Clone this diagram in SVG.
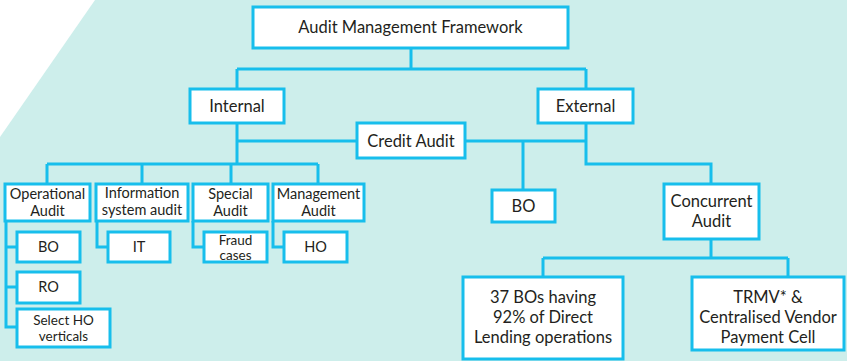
<svg xmlns="http://www.w3.org/2000/svg" width="847" height="361" viewBox="0 0 847 361">
<style>
.box{fill:#fff;stroke:#17BEEC;stroke-width:3}
.ln{fill:none;stroke:#17BEEC;stroke-width:3}
text{font-family:Lato,"Liberation Sans",sans-serif;fill:#231F20;text-anchor:middle;font-size:14.5px}
.big{font-size:16.5px}
.sm{font-size:13.5px}
</style>
<rect width="847" height="361" fill="#CDEEEB"/>
<polygon points="0,0 95,0 0,137" fill="#fff"/>
<g id="connectors">
<path class="ln" d="M411,48 V69 M237,69 H586 M237,69 V89 M586,69 V89"/>
<path class="ln" d="M237,123 V164 M237,141 H357 M465,141 H586 M586,123 V164 H711 V184 M523,141 V190"/>
<path class="ln" d="M47,164 H318 M47,164 V184 M142,164 V184 M231,164 V184 M318,164 V184"/>
<path class="ln" d="M6,221 V327 H17 M6,247 H17 M6,287 H17"/>
<path class="ln" d="M97,221 V247 H108 M193,221 V247 H204 M273,221 V247 H284"/>
<path class="ln" d="M711,239 V258 M543,258 H788 M543,258 V277 M788,258 V277"/>
</g>
<g id="amf"><rect class="box" x="253" y="7" width="315" height="41"/><text class="big" x="410.5" y="33">Audit Management Framework</text></g>
<g id="internal"><rect class="box" x="190" y="89" width="94" height="34"/><text class="big" x="237" y="112">Internal</text></g>
<g id="external"><rect class="box" x="538" y="89" width="95" height="34"/><text class="big" x="585.5" y="112">External</text></g>
<g id="credit"><rect class="box" x="357" y="123" width="108" height="35"/><text class="big" x="411" y="147">Credit Audit</text></g>
<g id="operational"><rect class="box" x="5" y="184" width="85" height="37"/><text x="47.5" y="199">Operational</text><text x="47.5" y="216">Audit</text></g>
<g id="infosys"><rect class="box" x="96" y="184" width="92" height="37"/><text x="142" y="198">Information</text><text x="142" y="215">system audit</text></g>
<g id="special"><rect class="box" x="193" y="184" width="75" height="37"/><text x="230.5" y="199">Special</text><text x="230.5" y="216">Audit</text></g>
<g id="management"><rect class="box" x="273" y="184" width="91" height="37"/><text x="318.5" y="199">Management</text><text x="318.5" y="216">Audit</text></g>
<g id="bo1"><rect class="box" x="17" y="232" width="63" height="30"/><text x="48.5" y="252">BO</text></g>
<g id="ro"><rect class="box" x="17" y="272" width="63" height="31"/><text x="48.5" y="292">RO</text></g>
<g id="selectho"><rect class="box" x="17" y="309" width="93" height="38"/><text class="sm" x="63.5" y="325">Select HO</text><text class="sm" x="63.5" y="340.5">verticals</text></g>
<g id="it"><rect class="box" x="108" y="232" width="62" height="30"/><text x="139" y="252">IT</text></g>
<g id="fraud"><rect class="box" x="204" y="232" width="63" height="30"/><text class="sm" x="235.5" y="244.5">Fraud</text><text class="sm" x="235.5" y="259.5">cases</text></g>
<g id="ho"><rect class="box" x="284" y="232" width="63" height="30"/><text x="315.5" y="252">HO</text></g>
<g id="bo2"><rect class="box" x="492" y="190" width="63" height="32"/><text class="big" x="523.5" y="212">BO</text></g>
<g id="concurrent"><rect class="box" x="664" y="184" width="95" height="55"/><text class="big" x="711.5" y="207">Concurrent</text><text class="big" x="711.5" y="227">Audit</text></g>
<g id="bos37"><rect class="box" x="463" y="277" width="160" height="82"/><text class="big" x="543" y="303">37 BOs having</text><text class="big" x="543" y="323">92% of Direct</text><text class="big" x="543" y="343">Lending operations</text></g>
<g id="trmv"><rect class="box" x="692" y="277" width="152" height="73"/><text class="big" x="768" y="303">TRMV* &amp;</text><text class="big" x="768" y="323">Centralised Vendor</text><text class="big" x="768" y="343">Payment Cell</text></g>
</svg>
